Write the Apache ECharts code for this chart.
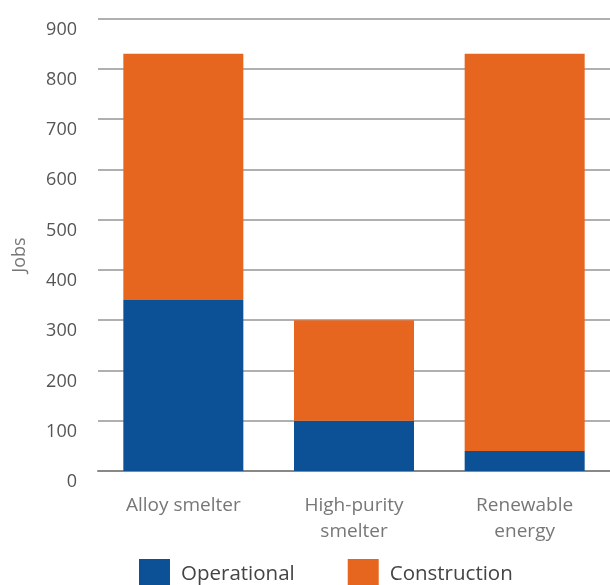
<!DOCTYPE html>
<html>
<head>
<meta charset="utf-8">
<script src="https://cdn.jsdelivr.net/npm/echarts@6/dist/echarts.min.js"></script>
<style>html,body{margin:0;padding:0;background:#fff}#c{width:610px;height:585px}</style>
</head>
<body>
<div id="c"></div>
<script>
const categories = ['Alloy smelter', 'High-purity\nsmelter', 'Renewable\nenergy'];
const operational = [340, 100, 40];
const construction = [490, 200, 790];
const yTicks = { min: 0, max: 900, interval: 100 };
const axisTitle = 'Jobs';

const chart = echarts.init(document.getElementById('c'));
const font = 'Open Sans';
chart.setOption({
  animation: false,
  grid: { left: 98, right: 0, top: 18.5, bottom: 114 },
  legend: {
    top: 559, left: 139, padding: 0, itemWidth: 31, itemHeight: 30, itemGap: 53,
    icon: 'rect',
    textStyle: { fontFamily: font, fontSize: 20.5, color: '#444', padding: [0, 0, 0, 6] },
    data: ['Operational', 'Construction']
  },
  xAxis: {
    type: 'category', data: categories,
    axisLine: { lineStyle: { color: '#888', width: 2 } },
    axisTick: { show: false },
    axisLabel: { fontFamily: font, fontSize: 19, color: '#777', lineHeight: 26, margin: 22 }
  },
  yAxis: {
    type: 'value', min: yTicks.min, max: yTicks.max, interval: yTicks.interval,
    axisLine: { show: false }, axisTick: { show: false },
    splitLine: { lineStyle: { color: '#b0b0b0', width: 2 } },
    axisLabel: { fontFamily: font, fontSize: 18, color: '#555', margin: 21, verticalAlign: 'top', lineHeight: 22 }
  },
  graphic: [{
    type: 'text', x: 20, y: 255, rotation: Math.PI / 2,
    style: { text: axisTitle, fontFamily: font, fontSize: 18, fill: '#777', align: 'center', verticalAlign: 'middle' }
  }],
  series: [
    { name: 'Operational', type: 'bar', stack: 's', data: operational, barWidth: 120, itemStyle: { color: '#0c5096' } },
    { name: 'Construction', type: 'bar', stack: 's', data: construction, barWidth: 120, itemStyle: { color: '#e66620' } }
  ]
});
</script>
</body>
</html>
